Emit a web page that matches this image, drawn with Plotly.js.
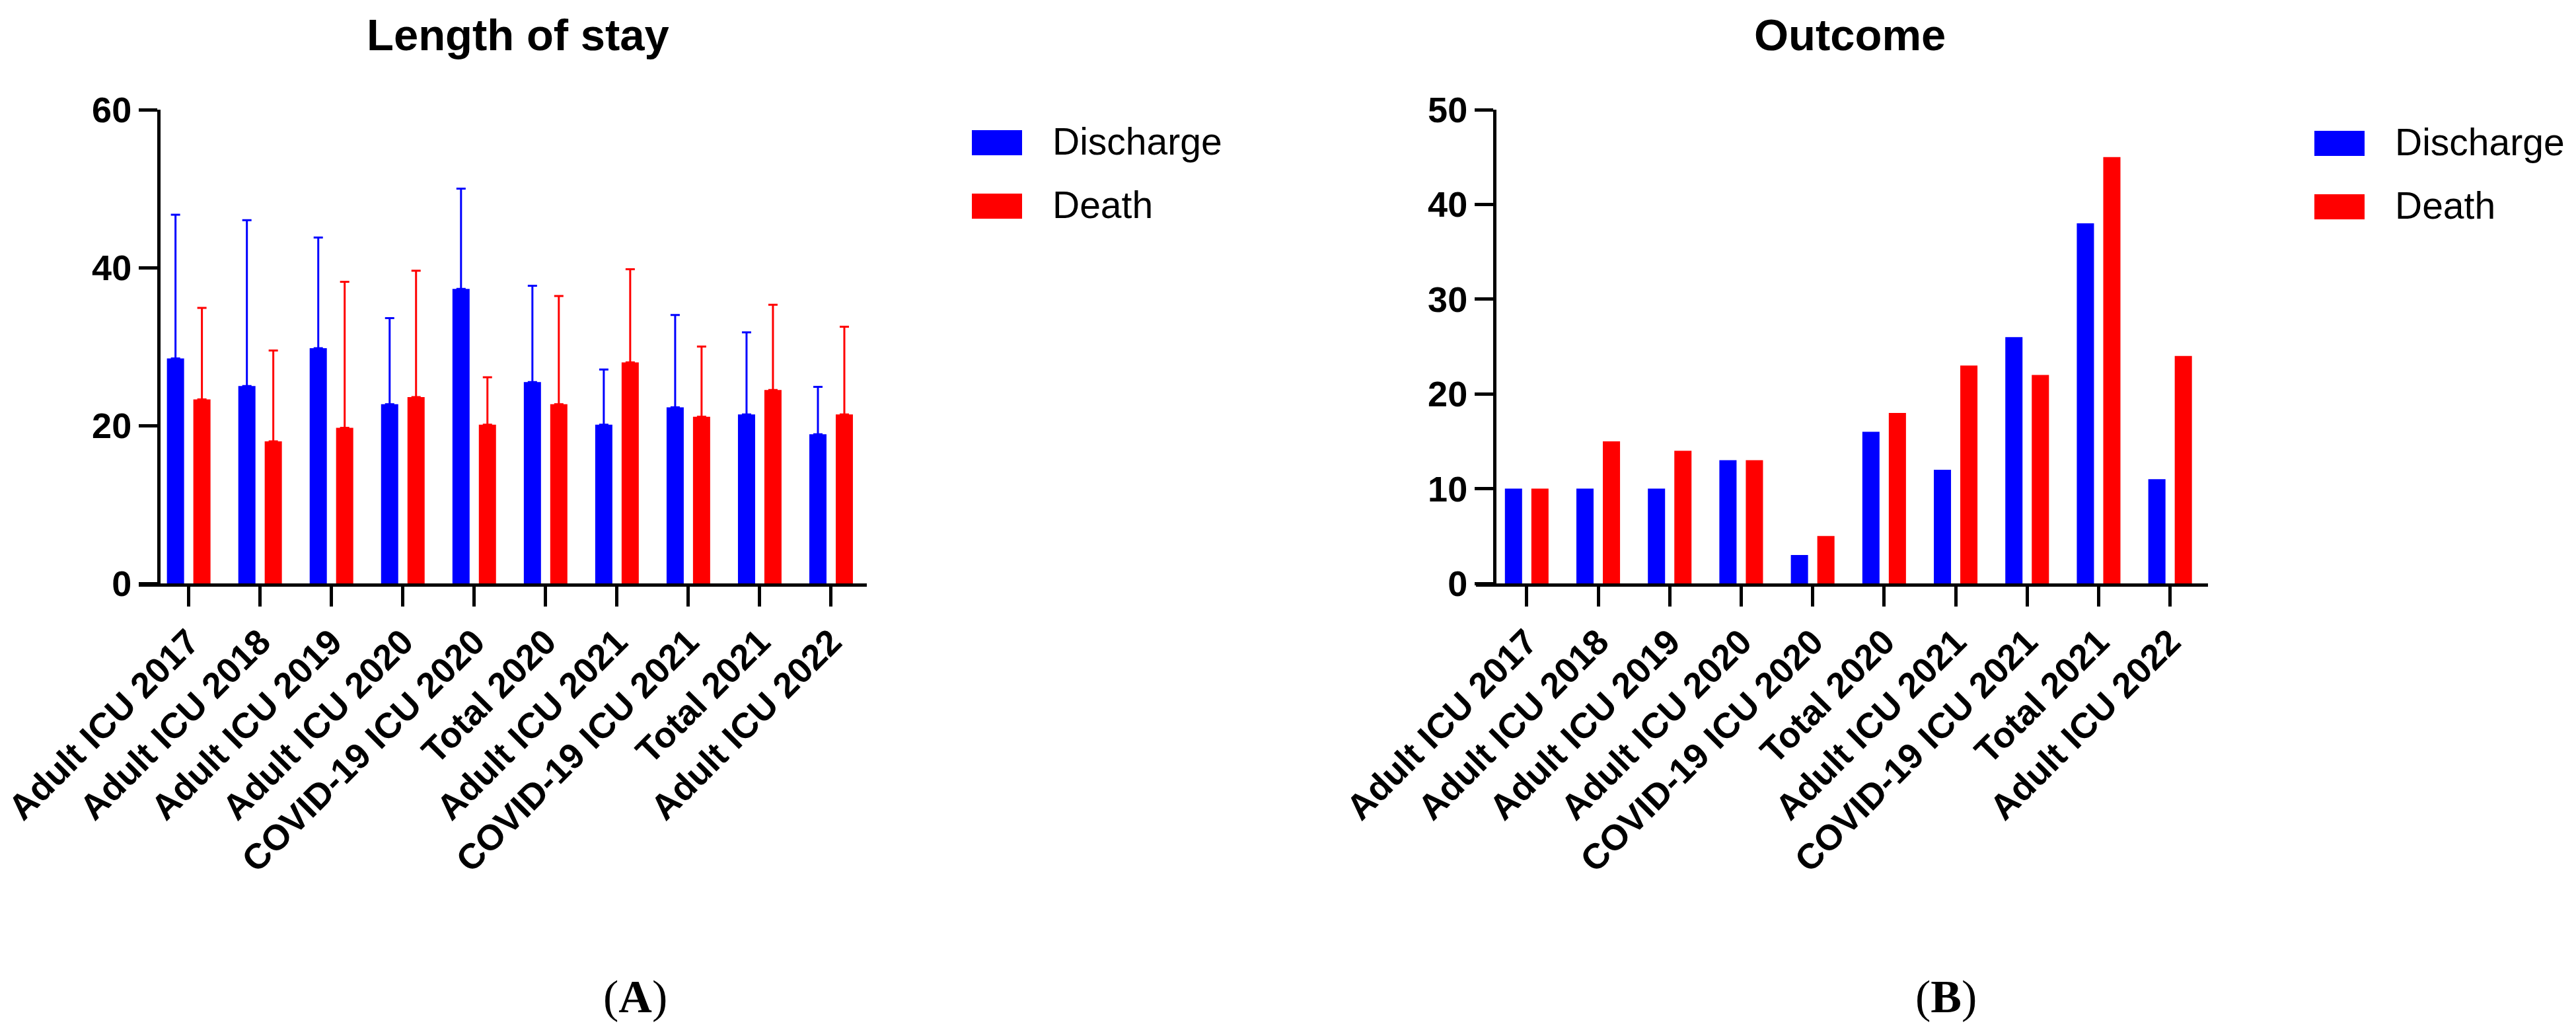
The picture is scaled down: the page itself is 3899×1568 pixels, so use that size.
<!DOCTYPE html>
<html>
<head>
<meta charset="utf-8">
<script src="https://cdn.plot.ly/plotly-3.0.1.min.js"></script>
<style>html,body{margin:0;padding:0;background:#fff;}#chart{width:3899px;height:1568px;}</style>
</head>
<body>
<div id="chart"></div>
<script>
// ---- data ----
const categories = ["Adult ICU 2017", "Adult ICU 2018", "Adult ICU 2019", "Adult ICU 2020", "COVID-19 ICU 2020", "Total 2020", "Adult ICU 2021", "COVID-19 ICU 2021", "Total 2021", "Adult ICU 2022"];
const seriesNames = ["Discharge", "Death"];
// Panel A: length of stay (mean + SD)
const losDischargeMean = [28.5, 25.0, 29.8, 22.7, 37.3, 25.5, 20.1, 22.3, 21.4, 18.9];
const losDischargeSD   = [18.2, 21.0, 14.0, 10.9, 12.7, 12.2, 7.0, 11.7, 10.4, 6.0];
const losDeathMean     = [23.3, 18.0, 19.7, 23.6, 20.1, 22.7, 28.0, 21.1, 24.5, 21.4];
const losDeathSD       = [11.6, 11.5, 18.5, 16.0, 6.0, 13.7, 11.8, 8.9, 10.8, 11.1];
// Panel B: outcome counts
const outDischarge = [10, 10, 10, 13, 3, 16, 12, 26, 38, 11];
const outDeath     = [10, 15, 14, 13, 5, 18, 23, 22, 45, 24];
const yTicksA = [0, 20, 40, 60];
const yTicksB = [0, 10, 20, 30, 40, 50];

// ---- styling ----
const W = 3899, H = 1568;
const BLUE = "#0000FF", RED = "#FF0000";
const px = v => v / W, py = v => 1 - v / H;
const FONT = "Liberation Sans, Arial, Helvetica, sans-serif";
const tickFont = {family: FONT, size: 54, color: "#000", weight: "bold"};
const zeros = categories.map(() => 0);

function errUp(arr, color) {
  return {type: "data", symmetric: false, array: arr, arrayminus: zeros, color: color, thickness: 3, width: 7, visible: true};
}

const traces = [
  {type: "bar", x: categories, y: losDischargeMean, name: seriesNames[0], marker: {color: BLUE}, error_y: errUp(losDischargeSD, BLUE), xaxis: "x", yaxis: "y", showlegend: false},
  {type: "bar", x: categories, y: losDeathMean, name: seriesNames[1], marker: {color: RED}, error_y: errUp(losDeathSD, RED), xaxis: "x", yaxis: "y", showlegend: false},
  {type: "bar", x: categories, y: outDischarge, name: seriesNames[0], marker: {color: BLUE}, xaxis: "x2", yaxis: "y2", showlegend: false},
  {type: "bar", x: categories, y: outDeath, name: seriesNames[1], marker: {color: RED}, xaxis: "x2", yaxis: "y2", showlegend: false}
];

const yDom = [py(883), py(166)];
const xAxisCommon = {
  type: "category", showline: true, linecolor: "#000", linewidth: 5,
  ticks: "outside", ticklen: 30, tickwidth: 5, tickcolor: "#000",
  tickangle: -45, tickfont: tickFont, showgrid: false, zeroline: false, fixedrange: true
};
const yAxisCommon = {
  showline: true, linecolor: "#000", linewidth: 5,
  ticks: "outside", ticklen: 28, tickwidth: 5, tickcolor: "#000",
  tickfont: tickFont, showgrid: false, zeroline: false, domain: yDom, fixedrange: true
};

const layout = {
  width: W, height: H,
  margin: {l: 0, r: 0, t: 0, b: 0},
  paper_bgcolor: "#fff", plot_bgcolor: "rgba(0,0,0,0)",
  barmode: "group", bargap: 0.26, bargroupgap: 0.35,
  showlegend: false,
  xaxis: Object.assign({}, xAxisCommon, {domain: [px(210), px(1312)], range: [-0.70, 9.5], anchor: "y"}),
  yaxis: Object.assign({}, yAxisCommon, {range: [0, 60], tickvals: yTicksA, anchor: "free", position: px(240)}),
  xaxis2: Object.assign({}, xAxisCommon, {domain: [px(2234), px(3342)], range: [-0.71, 9.53], anchor: "y2"}),
  yaxis2: Object.assign({}, yAxisCommon, {range: [0, 50], tickvals: yTicksB, anchor: "free", position: px(2262)}),
  shapes: [],
  annotations: []
};

// panel titles
layout.annotations.push(
  {text: "Length of stay", xref: "paper", yref: "paper", x: px(784), y: py(52), xanchor: "center", yanchor: "middle", showarrow: false, font: {family: FONT, size: 67, color: "#000", weight: "bold"}},
  {text: "Outcome", xref: "paper", yref: "paper", x: px(2800), y: py(52), xanchor: "center", yanchor: "middle", showarrow: false, font: {family: FONT, size: 67, color: "#000", weight: "bold"}}
);

// custom legends (swatch + label)
function addLegend(x0, yTop) {
  const colors = [BLUE, RED];
  seriesNames.forEach((nm, i) => {
    const t = yTop + i * 96;
    layout.shapes.push({type: "rect", xref: "paper", yref: "paper", x0: px(x0), x1: px(x0 + 76), y0: py(t + 38), y1: py(t), fillcolor: colors[i], line: {width: 0}});
    layout.annotations.push({text: nm, xref: "paper", yref: "paper", x: px(x0 + 120), y: py(t + 17), xanchor: "left", yanchor: "middle", showarrow: false, font: {family: FONT, size: 57, color: "#000"}});
  });
}
addLegend(1471, 197);
addLegend(3503, 198);

// panel letters
layout.annotations.push(
  {text: "(<b>A</b>)", xref: "paper", yref: "paper", x: px(961), y: py(1508), xanchor: "center", yanchor: "middle", showarrow: false, font: {family: "Liberation Serif, Times New Roman, serif", size: 70, color: "#000"}},
  {text: "(<b>B</b>)", xref: "paper", yref: "paper", x: px(2945), y: py(1508), xanchor: "center", yanchor: "middle", showarrow: false, font: {family: "Liberation Serif, Times New Roman, serif", size: 70, color: "#000"}}
);

Plotly.newPlot("chart", traces, layout, {displayModeBar: false, staticPlot: true});
</script>
</body>
</html>
